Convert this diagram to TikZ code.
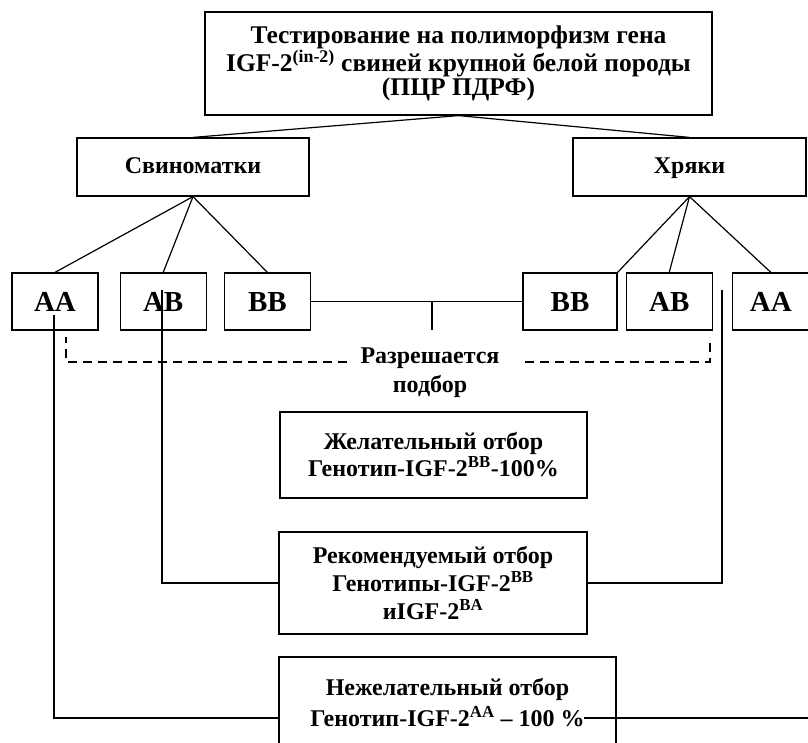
\documentclass[tikz,border=0pt]{standalone}
\usepackage{fontspec}
\setmainfont{Liberation Serif}
\usetikzlibrary{positioning}

\begin{document}
\begin{tikzpicture}[x=1pt,y=-1pt,line width=1.2pt,
  box/.style={draw,rectangle,align=center,inner sep=0pt,font=\bfseries\fontsize{24}{27}\selectfont},
  single/.style={text height=17pt,text depth=5pt},
  gene/.style={box,text height=21pt,text depth=2pt,minimum width=86pt,minimum height=57pt,font=\bfseries\fontsize{29}{30}\selectfont},
  note/.style={align=center,inner sep=0pt,font=\bfseries\fontsize{24}{29}\selectfont},
  allowed/.style={dash pattern=on 9pt off 6pt}]
\clip (0,0) rectangle (808,742);
% Head
\node[box,minimum width=507pt,minimum height=103pt,font=\bfseries\fontsize{25.5}{24}\selectfont](test) at (458.5,63.5){Тестирование на полиморфизм гена\\IGF-2\textsuperscript{(in-2)} свиней крупной белой породы\\(ПЦР ПДРФ)};
\node[box,single,minimum width=232pt,minimum height=58pt](sows) at (193,167){Свиноматки};
\node[box,single,minimum width=233pt,minimum height=58pt](boars) at (689.5,167){Хряки};
% Genotypes
\node[gene](sAA) at (55,301.5){AA};
\node[gene,right=21pt of sAA](sAB){AB};
\node[gene,right=17pt of sAB](sBB){BB};
\node[gene,minimum width=94pt](bBB) at (570,301.5){BB};
\node[gene,right=8pt of bBB](bAB){AB};
\node[gene,right=19pt of bAB,minimum width=77pt](bAA){AA};
% Selection
\node[note](allow) at (430,373){Разрешается\\подбор};
\node[box,minimum width=307pt,minimum height=86pt](want) at (433.5,455){Желательный отбор\\Генотип-IGF-2\textsuperscript{BB}-100\%};
\node[box,minimum width=308pt,minimum height=102pt,font=\bfseries\fontsize{24}{28}\selectfont](recom) at (433,583){Рекомендуемый отбор\\Генотипы-IGF-2\textsuperscript{BB}\\иIGF-2\textsuperscript{BA}};
\node[box,minimum width=337pt,minimum height=92pt,font=\bfseries\fontsize{24}{31}\selectfont](unwant) at (447.5,703){Нежелательный отбор\\Генотип-IGF-2\textsuperscript{AA} – 100 \%};
% Lines
\draw (test.south) -- (sows.north);
\draw (test.south) -- (boars.north);
\draw (sows.south) -- (sAA.north);
\draw (sows.south) -- (sAB.north);
\draw (sows.south) -- (sBB.north);
\draw (boars.south) -- (bBB.north east);
\draw (boars.south) -- (bAB.north);
\draw (boars.south) -- (bAA.north);
\draw (sBB.east) -- (bBB.west);
\coordinate (mid) at (432,301.5);
\draw (mid) -- ++(0,28);
% Dashed
\draw[allowed] (347,362) -| (66,337);
\draw[allowed] (525,362) -| (710,337);
% Drops
\coordinate (aaTop) at (54,315);
\coordinate (abTop) at (162,290);
\coordinate (bTop) at (722,290);
\coordinate (uIn) at (unwant.west |- 0,718);
\coordinate (uEnd) at (584,718);
\coordinate (uOut) at (808,718);
\draw (abTop) |- (recom.west);
\draw (bTop) |- (recom.east);
\draw (aaTop) |- (uIn);
\draw (uEnd) -- (uOut);
\end{tikzpicture}
\end{document}
